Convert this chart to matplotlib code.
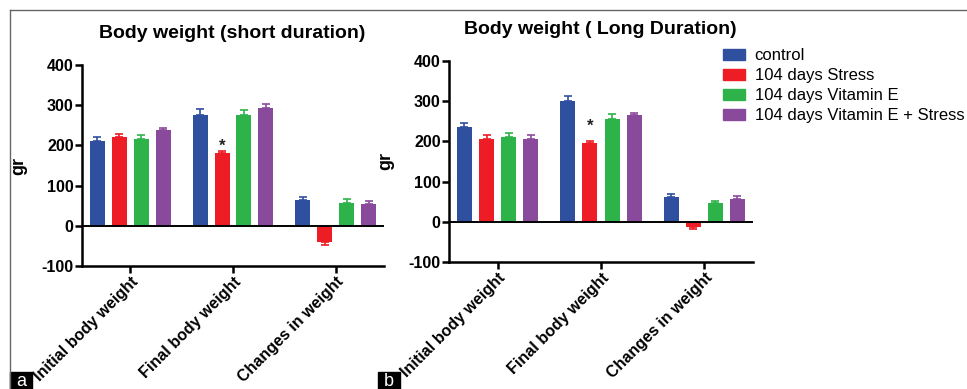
import numpy as np
import matplotlib
matplotlib.use("Agg")
import matplotlib.pyplot as plt
from matplotlib.lines import Line2D
from matplotlib.patches import Patch, Rectangle

plt.rcParams['font.family'] = ['Liberation Sans', 'DejaVu Sans']
plt.rcParams['axes.unicode_minus'] = False

categories = ['Initial body weight', 'Final body weight', 'Changes in weight']
groups = ['control', '104 days Stress', '104 days Vitamin E', '104 days Vitamin E + Stress']
colors = ['#2f4f9f', '#ee1c25', '#2db34a', '#8a4a9c']

# short duration (panel a)
short_control = [211, 276, 64]
short_control_err = [10, 14, 7]
short_stress = [220, 180, -40]
short_stress_err = [9, 6, 9]
short_vite = [216, 276, 57]
short_vite_err = [10, 12, 10]
short_vite_stress = [238, 294, 55]
short_vite_stress_err = [6, 10, 6]

# long duration (panel b)
long_control = [237, 301, 61]
long_control_err = [9, 12, 9]
long_stress = [207, 195, -14]
long_stress_err = [8, 6, 4]
long_vite = [211, 256, 46]
long_vite_err = [9, 12, 6]
long_vite_stress = [207, 265, 56]
long_vite_stress_err = [9, 5, 9]

star_y = [198, 238]  # where the * sits above the stressed final weight

offsets = [-0.32, -0.107, 0.107, 0.32]
bar_w = 0.146


def draw_panel(ax, means, errs, star):
    x = np.arange(len(categories))
    for i in range(len(means)):
        vals = np.array(means[i])
        e = np.array(errs[i])
        lower = np.where(vals < 0, e, 0)
        upper = np.where(vals >= 0, e, 0)
        ax.bar(x + offsets[i], vals, width=bar_w, color=colors[i], zorder=2)
        ax.errorbar(x + offsets[i], vals, yerr=[lower, upper], fmt='none',
                    ecolor=colors[i], elinewidth=1.2, capsize=3, capthick=1.2, zorder=1)
    ax.axhline(0, color='black', lw=1.4, zorder=3)
    ax.text(1 + offsets[1], star, '*', fontsize=12, fontweight='bold',
            ha='center', va='center', color='#222222')

    ax.set_xlim(-0.47, 2.47)
    ax.set_ylim(-100, 400)
    ax.set_yticks([-100, 0, 100, 200, 300, 400])
    ax.set_xticks(x)
    ax.set_xticklabels(categories, rotation=45, ha='right', rotation_mode='anchor',
                       fontsize=11.5, fontweight='bold')
    for lab in ax.get_yticklabels():
        lab.set_fontweight('bold')
        lab.set_fontsize(11.5)
    ax.spines["top"].set_visible(False)
    ax.spines["right"].set_visible(False)
    ax.spines["left"].set_linewidth(1.8)
    ax.spines["bottom"].set_linewidth(1.8)
    ax.tick_params(axis='both', width=1.8, length=5, pad=1)
    ax.set_ylabel('gr', fontsize=13, fontweight='bold')
    ax.yaxis.set_label_coords(-0.18, 0.5)


fig = plt.figure(figsize=(9.67, 3.89), dpi=100)
ax1 = fig.add_axes([0.0848, 0.3162, 0.3123, 0.5167])
ax2 = fig.add_axes([0.4643, 0.3265, 0.3144, 0.5167])

draw_panel(ax1,
           [short_control, short_stress, short_vite, short_vite_stress],
           [short_control_err, short_stress_err, short_vite_err, short_vite_stress_err],
           star_y[0])
draw_panel(ax2,
           [long_control, long_stress, long_vite, long_vite_stress],
           [long_control_err, long_stress_err, long_vite_err, long_vite_stress_err],
           star_y[1])

fig.text(0.240, 0.915, 'Body weight (short duration)', fontsize=14, fontweight='bold',
         ha='center', va='center')
fig.text(0.621, 0.925, 'Body weight ( Long Duration)', fontsize=14, fontweight='bold',
         ha='center', va='center')

handles = [Patch(color=c) for c in colors]
fig.legend(handles, groups, loc='upper left', bbox_to_anchor=(0.7477, 0.876),
           frameon=False, fontsize=12, handlelength=1.3, handleheight=0.6,
           handletextpad=0.6, labelspacing=0.3, borderpad=0, borderaxespad=0)

# outer frame lines
fig.add_artist(Line2D([10 / 967, 1], [1 - 10 / 389] * 2, color='#666666', lw=1))
fig.add_artist(Line2D([10 / 967] * 2, [0, 1 - 10 / 389], color='#666666', lw=1))

# panel letters
for x0, letter in [(10, 'a'), (378, 'b')]:
    fig.add_artist(Rectangle((x0 / 967, 0), 22 / 967, 17 / 389, color='black',
                             transform=fig.transFigure))
    fig.text((x0 + 11) / 967, 8 / 389, letter, color='white', fontsize=13,
             ha='center', va='center')

fig.savefig('out.png', dpi=100)
